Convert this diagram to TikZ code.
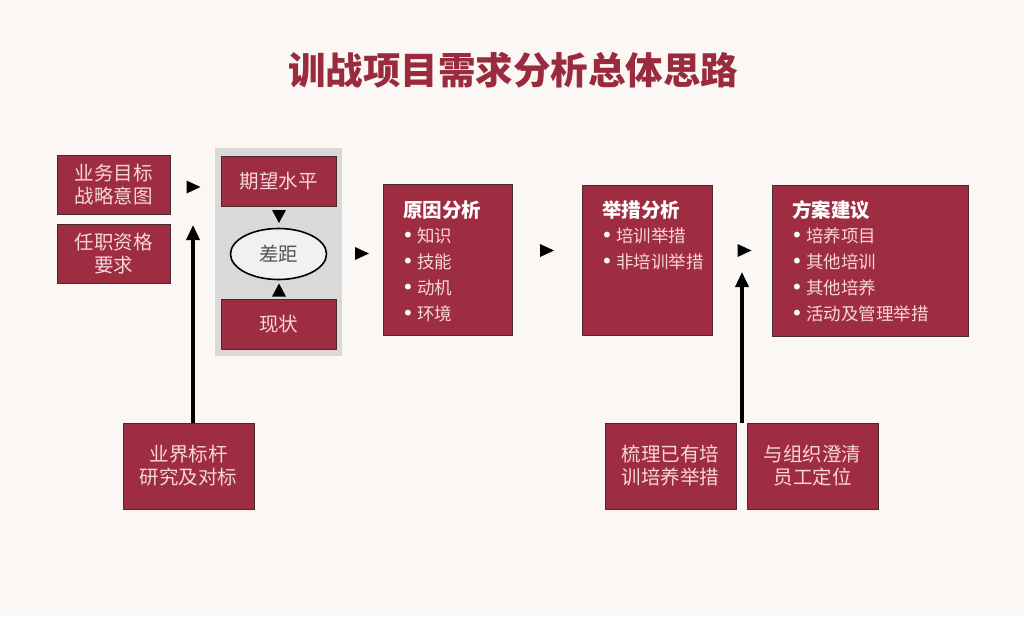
\documentclass[tikz,border=0pt]{standalone}
\usepackage{fontspec}
\setmainfont{Noto Sans CJK SC}
\newfontfamily\dvfont{DejaVu Sans}
\usetikzlibrary{arrows.meta,shapes.geometric}
\definecolor{bg}{HTML}{FBF7F4}
\definecolor{boxred}{HTML}{9E2D42}
\definecolor{boxedge}{HTML}{4A2A30}
\definecolor{titlered}{HTML}{9A2A3E}
\definecolor{boxtext}{HTML}{F6D6DA}
\definecolor{panelgray}{HTML}{D9D9D9}
\definecolor{ellfill}{HTML}{F1F1F1}
\definecolor{graytext}{HTML}{555555}
\newcommand{\bul}{{\dvfont\fontsize{20}{20}\selectfont \textcolor{white}{•}}\hspace{3pt}}
\begin{document}
\begin{tikzpicture}[x=1pt,y=-1pt,
  redbox/.style={draw=boxedge, fill=boxred, line width=0.8pt, inner sep=0pt,
    text=boxtext, font=\fontsize{19.5}{23}\selectfont, align=center},
  headtxt/.style={anchor=west, inner sep=0pt, text=white, font=\bfseries\fontsize{19.5}{20}\selectfont},
  itemtxt/.style={anchor=west, inner sep=0pt, text=boxtext, font=\fontsize{17.5}{20}\selectfont},
  bigarrow/.style={line width=3.6pt, -{Triangle[length=15pt,width=13pt]}},
  rtri/.pic={\fill[black] (-7,-6.5) -- (7,0) -- (-7,6.5) -- cycle;},
  dtri/.pic={\fill[black] (-7,-6.5) -- (7,-6.5) -- (0,6.5) -- cycle;},
  utri/.pic={\fill[black] (-7,6.5) -- (7,6.5) -- (0,-6.5) -- cycle;}
]
\fill[bg] (0,0) rectangle (1024,616);
\useasboundingbox (0,0) rectangle (1024,616);

% title
\node[text=titlered, font=\bfseries\fontsize{37.5}{40}\selectfont, inner sep=0pt] (title) at (513,70) {训战项目需求分析总体思路};

% left boxes
\node[redbox, minimum width=113, minimum height=59] (goal) at (113.5,184.5) {业务目标\\战略意图};
\node[redbox, minimum width=113, minimum height=59] (job) at (113.5,253.5) {任职资格\\要求};

% gray panel
\node[fill=panelgray, minimum width=127, minimum height=208, inner sep=0pt] (panel) at (278.5,252) {};
\node[redbox, minimum width=115, minimum height=50] (expect) at (278.5,181) {期望水平};
\node[draw=black, line width=1.6pt, fill=ellfill, ellipse, minimum width=96, minimum height=51, inner sep=0pt,
  text=graytext, font=\fontsize{19.5}{20}\selectfont] (gap) at (278.5,254) {差距};
\node[redbox, minimum width=115, minimum height=50] (now) at (278.5,324) {现状};

% bottom boxes
\node[redbox, minimum width=131, minimum height=86] (bench) at (188.5,466) {业界标杆\\研究及对标};
\node[redbox, minimum width=131, minimum height=86] (sort) at (670.5,466) {梳理已有培\\训培养举措};
\node[redbox, minimum width=131, minimum height=86] (clarify) at (812.5,466) {与组织澄清\\员工定位};

% analysis boxes
\node[redbox, minimum width=129, minimum height=151] (cause) at (447.5,259.5) {};
\node[redbox, minimum width=130, minimum height=150] (measure) at (647,260) {};
\node[redbox, minimum width=196, minimum height=151] (plan) at (870,260.5) {};

\node[headtxt] (causeH) at (403,210) {原因分析};
\node[itemtxt] (cause1) at (402,236) {\bul 知识};
\node[itemtxt] (cause2) at (402,262) {\bul 技能};
\node[itemtxt] (cause3) at (402,288) {\bul 动机};
\node[itemtxt] (cause4) at (402,314) {\bul 环境};

\node[headtxt] (measureH) at (602,210) {举措分析};
\node[itemtxt] (measure1) at (601,236) {\bul 培训举措};
\node[itemtxt] (measure2) at (601,262) {\bul 非培训举措};

\node[headtxt] (planH) at (792,210) {方案建议};
\node[itemtxt] (plan1) at (791,236) {\bul 培养项目};
\node[itemtxt] (plan2) at (791,262) {\bul 其他培训};
\node[itemtxt] (plan3) at (791,288) {\bul 其他培养};
\node[itemtxt] (plan4) at (791,314) {\bul 活动及管理举措};

% triangles
\pic at (193.5,187) {rtri};
\pic at (362,253.5) {rtri};
\pic at (547,250.5) {rtri};
\pic at (744.5,250.5) {rtri};
\pic at (279,216.5) {dtri};
\pic at (279,290) {utri};

% long arrows
\coordinate (tipA) at (193,225);
\coordinate (tipB) at (742,272);
\draw[bigarrow] (tipA |- bench.north) -- (tipA);
\draw[bigarrow] (tipB |- sort.north) -- (tipB);
\end{tikzpicture}
\end{document}
